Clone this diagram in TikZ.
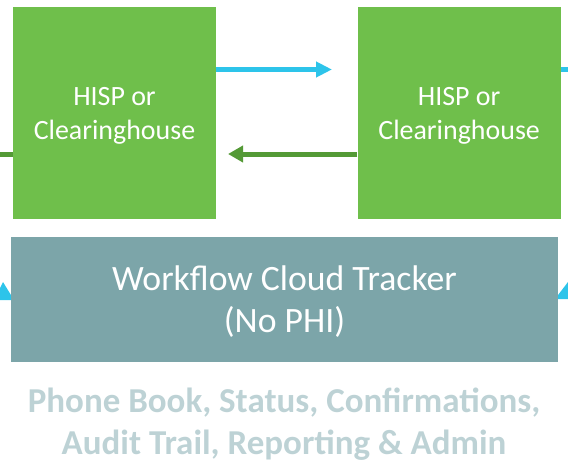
\documentclass[tikz,border=0pt]{standalone}
\usepackage{fontspec}
\setmainfont{Carlito}
\usepackage{tikz}
\usetikzlibrary{arrows.meta, positioning}
\definecolor{hispgreen}{HTML}{6FBF4B}
\definecolor{linkgreen}{HTML}{549A36}
\definecolor{linkcyan}{HTML}{2DC4EA}
\definecolor{trackergrey}{HTML}{7CA5A9}
\definecolor{notegrey}{HTML}{BDD2D5}
\tikzstyle{hisp} = [rectangle, minimum width=4.06cm, minimum height=4.24cm, inner sep=0pt, text depth=0pt, fill=hispgreen, text=white, align=center, font=\fontsize{15.9}{19.4}\selectfont]
\tikzstyle{tracker} = [rectangle, minimum width=10.94cm, minimum height=2.5cm, inner sep=0pt, text depth=0pt, fill=trackergrey, text=white, align=center, font=\fontsize{20.3}{23.8}\selectfont]
\tikzstyle{cyanarrow} = [line width=0.11cm, draw=linkcyan, -{Triangle[length=0.32cm, width=0.3cm]}]
\tikzstyle{greenarrow} = [line width=0.1cm, draw=linkgreen, -{Triangle[length=0.3cm, width=0.32cm]}]

\begin{document}
\begin{tikzpicture}[x=0.02cm, y=-0.02cm]
  \useasboundingbox (0,0) rectangle (568,463);
  \clip (0,0) rectangle (568,463);

  \node[hisp] (hispL) at (114.5,113) {HISP or\\Clearinghouse};
  \node[hisp, right=2.82cm of hispL] (hispR) {HISP or\\Clearinghouse};

  \coordinate (cyanTip) at (332,69.5);
  \coordinate (greenTip) at (228,154);
  \coordinate (leftOut) at (-20,154);
  \coordinate (rightOut) at (590,69.5);
  \draw[cyanarrow] (hispL.east |- cyanTip) -- (cyanTip);
  \draw[greenarrow] (hispR.west |- greenTip) -- (greenTip);
  \draw[line width=0.1cm, linkgreen] (hispL.west |- leftOut) -- (leftOut);
  \draw[line width=0.11cm, linkcyan] (hispR.east |- rightOut) -- (rightOut);

  % arrow heads cut at the sides
  \fill[linkcyan] (-6,300) -- (3,282) -- (14,300) -- cycle;
  \fill[linkcyan] (555,299) -- (568,282) -- (581,299) -- cycle;

  \node[tracker] (tracker) at (284.5,299.5) {Workflow Cloud Tracker\\(No PHI)};

  \node[text=notegrey, align=center, font=\bfseries\fontsize{19.9}{24}\selectfont] (note) at (284,424) {Phone Book, Status, Confirmations,\\Audit Trail, Reporting \& Admin};
\end{tikzpicture}
\end{document}
